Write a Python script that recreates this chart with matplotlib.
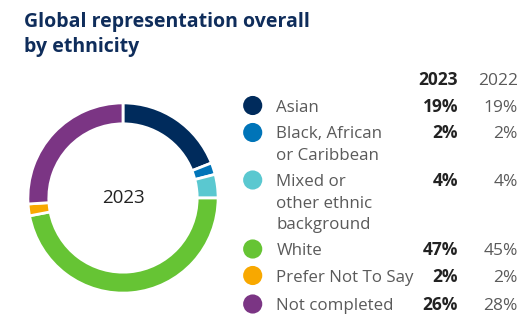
import matplotlib
matplotlib.use('Agg')
import matplotlib.pyplot as plt

plt.rcParams['font.family'] = ['Open Sans', 'DejaVu Sans']

categories = ['Asian', 'Black, African\nor Caribbean', 'Mixed or\nother ethnic\nbackground',
              'White', 'Prefer Not To Say', 'Not completed']
values_2023 = [19, 2, 4, 47, 2, 26]
values_2022 = [19, 2, 4, 45, 2, 28]
colors = ['#002b5c', '#0074b8', '#5ac8d0', '#66c434', '#f8a800', '#7b3584']

W, H = 523, 326
fig = plt.figure(figsize=(W / 100, H / 100), dpi=100)

# donut, center ~ (123, 198) px, radius ~97 px
cx, cy, r = 123, 198, 97
ax = fig.add_axes([(cx - r) / W, (H - cy - r) / H, 2 * r / W, 2 * r / H])
ax.pie(values_2023, colors=colors, startangle=90, counterclock=False,
       wedgeprops=dict(width=0.22, edgecolor='white', linewidth=2))
ax.set_xlim(-1.02, 1.02)
ax.set_ylim(-1.02, 1.02)
ax.set_aspect('equal')
ax.text(0, 0, '2023', ha='center', va='center', fontsize=13.5, color='#222222')

# overlay in pixel coordinates
ov = fig.add_axes([0, 0, 1, 1])
ov.set_xlim(0, W)
ov.set_ylim(H, 0)
ov.axis('off')

ov.text(24, 27, 'Global representation overall', fontsize=14, fontweight='bold',
        color='#0f2d5b', va='baseline')
ov.text(24, 52, 'by ethnicity', fontsize=14, fontweight='bold',
        color='#0f2d5b', va='baseline')

col23, col22 = 458, 518
ov.text(col23, 85, '2023', ha='right', va='baseline', fontsize=12.5,
        fontweight='bold', color='#222222')
ov.text(col22, 85, '2022', ha='right', va='baseline', fontsize=12.5, color='#5a5a5a')

row_base = [111.5, 138.5, 186, 255, 281.5, 310]
line_gap = 21.5
for cat, v23, v22, col, yb in zip(categories, values_2023, values_2022, colors, row_base):
    ov.scatter([252.7], [yb - 6], s=190, color=col, edgecolors='none')
    for i, line in enumerate(cat.split('\n')):
        ov.text(276.5, yb + i * line_gap, line, va='baseline', fontsize=12.2, color='#5a5a5a')
    ov.text(col23, yb, f'{v23}%', ha='right', va='baseline', fontsize=12.5,
            fontweight='bold', color='#222222')
    ov.text(col22, yb, f'{v22}%', ha='right', va='baseline', fontsize=12.5, color='#5a5a5a')

fig.savefig('out.png', dpi=100)
